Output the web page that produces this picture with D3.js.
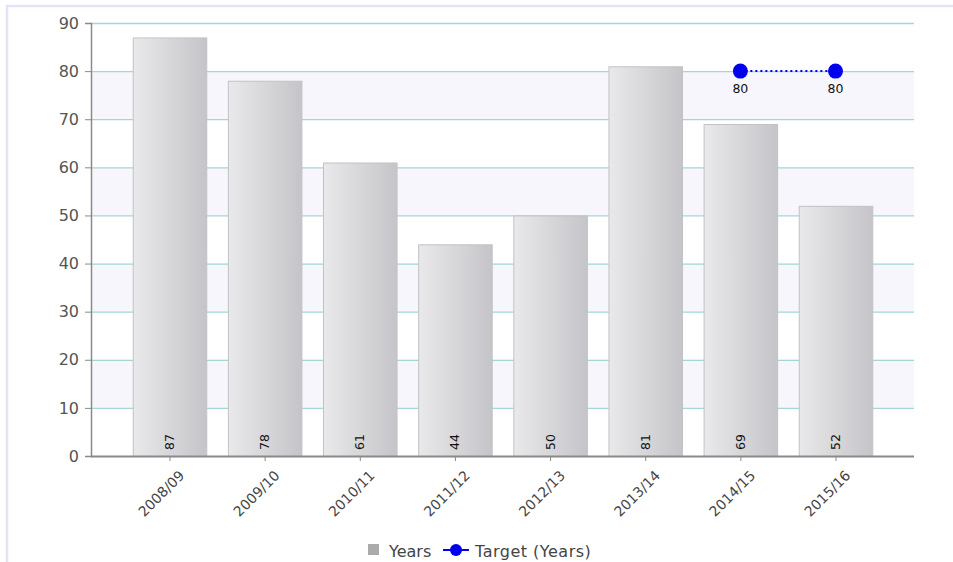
<!DOCTYPE html>
<html>
<head>
<meta charset="utf-8">
<script src="https://cdn.jsdelivr.net/npm/d3@7"></script>
<style>
  html, body { margin: 0; padding: 0; background: #fff; }
  svg { display: block; }
  text { font-family: "DejaVu Sans", Verdana, sans-serif; }
</style>
</head>
<body>
<svg id="chart" width="953" height="562"></svg>
<script>
// ---- data ----
const categories = ["2008/09", "2009/10", "2010/11", "2011/12", "2012/13", "2013/14", "2014/15", "2015/16"];
const yearsValues = [87, 78, 61, 44, 50, 81, 69, 52];
const targetCategories = ["2014/15", "2015/16"];
const targetValues = [80, 80];
const yTicks = [0, 10, 20, 30, 40, 50, 60, 70, 80, 90];
const seriesNames = ["Years", "Target (Years)"];

// ---- layout ----
const W = 953, H = 562;
const plot = { left: 91, right: 914, top: 23, bottom: 456 };

const svg = d3.select("#chart");
const defs = svg.append("defs");
const grad = defs.append("linearGradient").attr("id", "barGrad")
  .attr("x1", "0%").attr("x2", "100%").attr("y1", "0%").attr("y2", "0%");
grad.append("stop").attr("offset", "0%").attr("stop-color", "#e9e9eb");
grad.append("stop").attr("offset", "100%").attr("stop-color", "#c5c5c9");

// frame
svg.append("rect").attr("x", 7).attr("y", 6).attr("width", W).attr("height", H)
  .attr("fill", "none").attr("stroke", "#e3e3f7").attr("stroke-width", 2.5);

const x = d3.scalePoint().domain(categories).range([plot.left, plot.right]).padding(0.825);
const step = x.step();
const barW = step * 0.773;
const y = d3.scaleLinear().domain([0, 90]).range([plot.bottom, plot.top]);

// alternating bands
const bands = yTicks.slice(0, -1).filter((d, i) => i % 2 === 1);
svg.append("g").selectAll("rect").data(bands).join("rect")
  .attr("x", plot.left).attr("width", plot.right - plot.left)
  .attr("y", d => y(d + 10)).attr("height", d => y(d) - y(d + 10))
  .attr("fill", "#f6f6fc");

// gridlines
svg.append("g").selectAll("line").data(yTicks.filter(d => d > 0)).join("line")
  .attr("x1", plot.left).attr("x2", plot.right)
  .attr("y1", d => y(d) + 0.5).attr("y2", d => y(d) + 0.5)
  .attr("stroke", "#a5d6d6").attr("stroke-width", 1.3);

// bars
svg.append("g").selectAll("rect").data(yearsValues).join("rect")
  .attr("x", (d, i) => x(categories[i]) - barW / 2 + 0.5)
  .attr("width", barW)
  .attr("y", d => y(d) + 0.5)
  .attr("height", d => y(0) - y(d))
  .attr("fill", "url(#barGrad)")
  .attr("stroke", "#c2c2c4").attr("stroke-width", 1);

// bar value labels (rotated)
svg.append("g").selectAll("text").data(yearsValues).join("text")
  .attr("transform", (d, i) => `translate(${x(categories[i]) + 4.5},${plot.bottom - 6}) rotate(-90)`)
  .attr("text-anchor", "start")
  .attr("font-size", 12.5)
  .attr("fill", "#111")
  .text(d => d);

// y axis
const yAxis = d3.axisLeft(y).tickValues(yTicks).tickSize(6).tickPadding(6);
const gy = svg.append("g").attr("transform", `translate(${plot.left},0)`).call(yAxis);
gy.select(".domain").attr("stroke", "#8a8a8a").attr("stroke-width", 1.5);
gy.selectAll(".tick line").attr("stroke", "#8a8a8a");
gy.selectAll(".tick text").attr("font-size", 16).attr("fill", "#555")
  .attr("font-family", "\"DejaVu Sans\", Verdana, sans-serif");

// x axis
const xAxis = d3.axisBottom(x).tickSize(5).tickPadding(4).tickSizeOuter(0);
const gx = svg.append("g").attr("transform", `translate(0,${plot.bottom})`).call(xAxis);
gx.select(".domain").attr("stroke", "#8a8a8a").attr("stroke-width", 2)
  .attr("d", `M${plot.left},0.5H${plot.right}`);
gx.selectAll(".tick line").attr("stroke", "#8a8a8a");
gx.selectAll(".tick text")
  .attr("font-size", 14).attr("fill", "#444")
  .attr("font-family", "\"DejaVu Sans\", Verdana, sans-serif")
  .attr("text-anchor", "end")
  .attr("dy", "0")
  .attr("transform", "translate(9,14) rotate(-45)");

// target line
const tPts = targetValues.map((v, i) => [x(targetCategories[i]), y(v)]);
svg.append("path").attr("d", d3.line()(tPts))
  .attr("fill", "none").attr("stroke", "#0000ee").attr("stroke-width", 2)
  .attr("stroke-dasharray", "2,3");
svg.append("g").selectAll("circle").data(tPts).join("circle")
  .attr("cx", d => d[0]).attr("cy", d => d[1]).attr("r", 7.5)
  .attr("fill", "#0000ee");
svg.append("g").selectAll("text").data(targetValues).join("text")
  .attr("x", (d, i) => x(targetCategories[i]))
  .attr("y", (d) => y(d) + 22)
  .attr("text-anchor", "middle").attr("font-size", 12.5).attr("fill", "#111")
  .text(d => d);

// legend
const lg = svg.append("g").attr("transform", "translate(368,557)");
lg.append("rect").attr("x", 0).attr("y", -13).attr("width", 11).attr("height", 11).attr("fill", "#ababab");
lg.append("text").attr("x", 21).attr("y", 0).attr("font-size", 16).attr("fill", "#444").text(seriesNames[0]);
lg.append("line").attr("x1", 75).attr("x2", 101).attr("y1", -7).attr("y2", -7)
  .attr("stroke", "#0000ee").attr("stroke-width", 2);
lg.append("circle").attr("cx", 88).attr("cy", -7).attr("r", 6).attr("fill", "#0000ee");
lg.append("text").attr("x", 107).attr("y", 0).attr("font-size", 16).attr("fill", "#444")
  .attr("letter-spacing", 0.5).text(seriesNames[1]);
</script>
</body>
</html>
